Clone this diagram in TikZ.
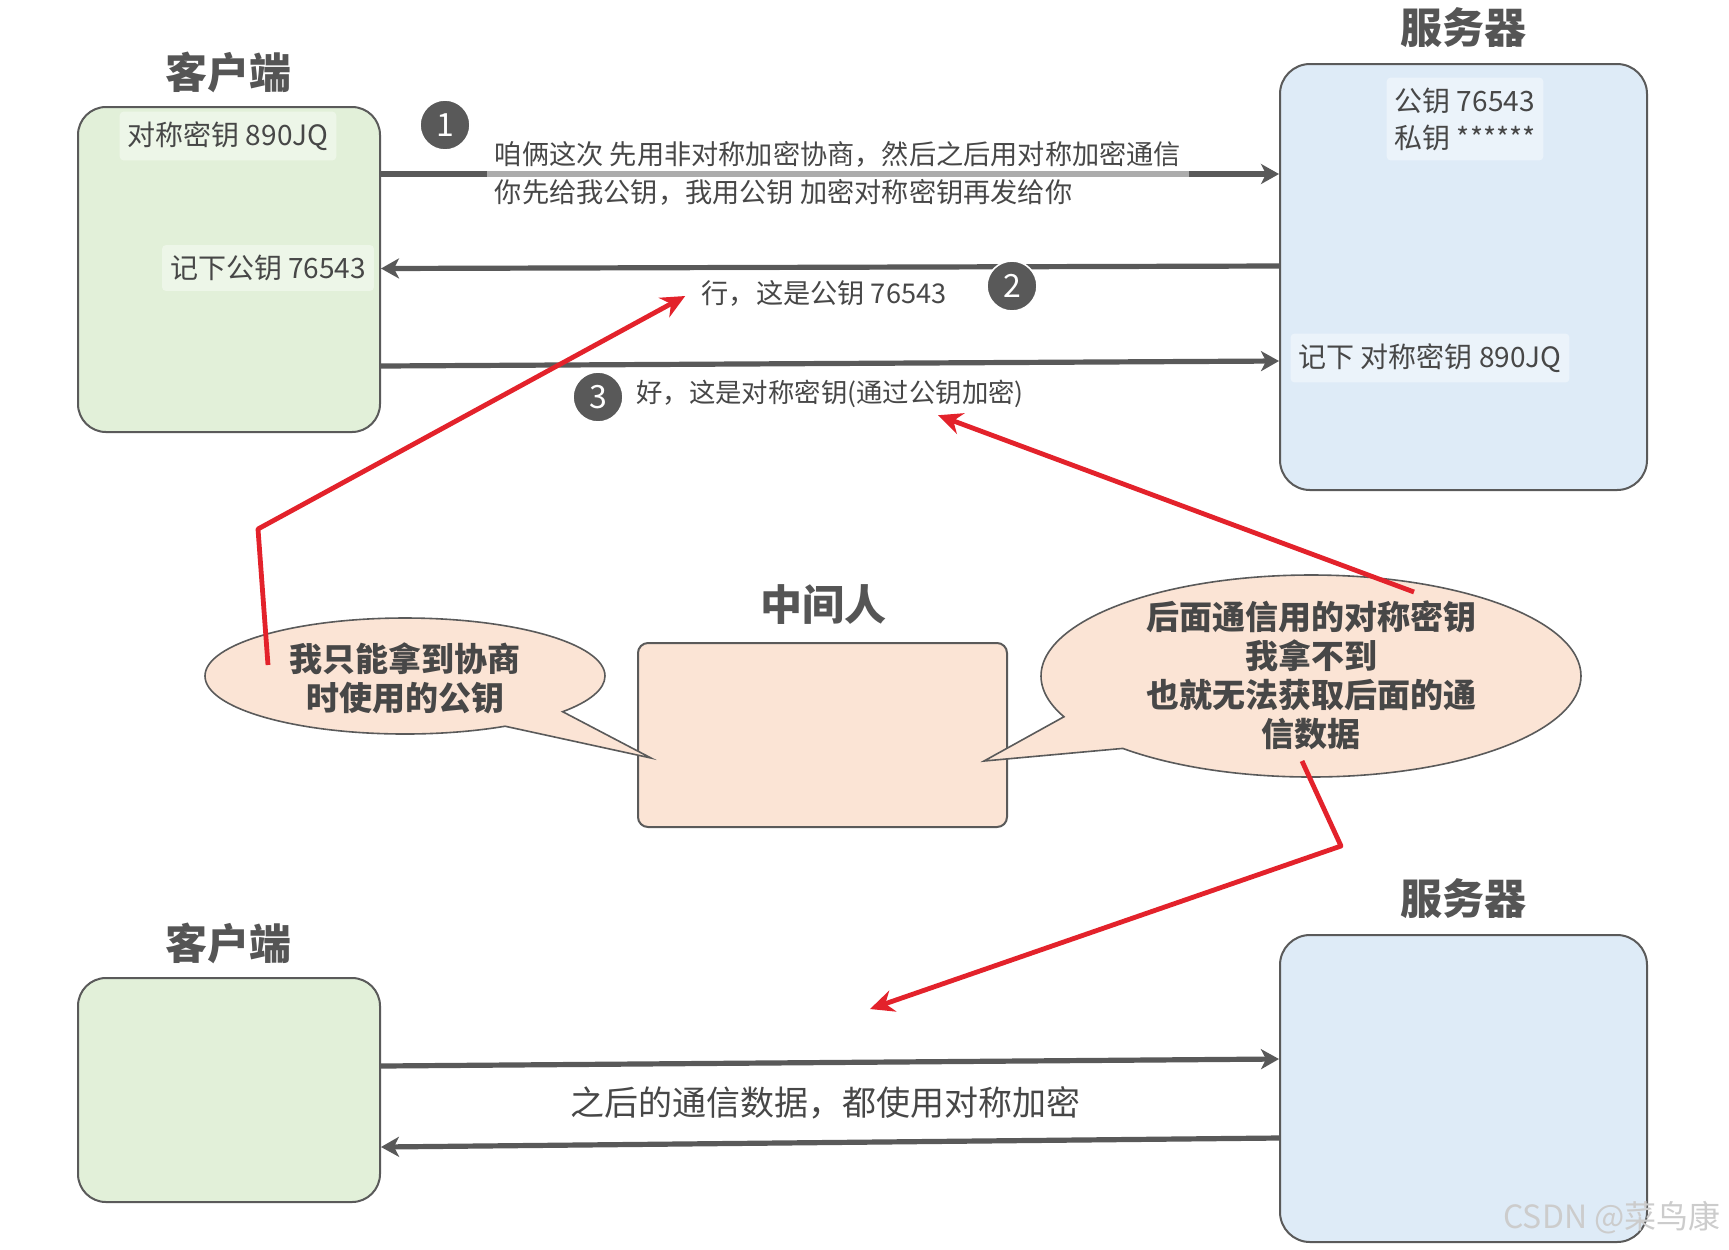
\documentclass[tikz,border=0pt]{standalone}
\usepackage{fontspec}
\setmainfont{Noto Sans CJK SC}
\usetikzlibrary{arrows.meta,calc,shapes.callouts}
\definecolor{txt}{HTML}{474747}
\definecolor{ttl}{HTML}{555555}
\definecolor{edge}{HTML}{595959}
\definecolor{green1}{HTML}{E2F0D9}
\definecolor{blue1}{HTML}{DEEBF7}
\definecolor{peach}{HTML}{FBE4D5}
\definecolor{redl}{HTML}{E3222B}
\definecolor{bord}{HTML}{5A5A5A}
\begin{document}
\begin{tikzpicture}[x=0.5pt,y=-0.5pt,
  box/.style={draw=bord, line width=1pt, rounded corners=14pt, inner sep=0pt},
  title/.style={font=\fontsize{21}{25}\selectfont\bfseries, text=ttl},
  lbl/.style={font=\fontsize{13.6}{19}\selectfont, text=txt, fill=white, fill opacity=0.5, text opacity=1, inner xsep=4pt, inner ysep=5pt},
  inlbl/.style={font=\fontsize{14}{18.5}\selectfont, text=txt, fill=white, fill opacity=0.4, text opacity=1, inner xsep=4pt, inner ysep=5pt, rounded corners=2pt},
  conn/.style={draw=edge, line width=2.6pt, -{Stealth[length=9pt,width=10pt,inset=2.5pt]}},
  num/.style={circle, fill=edge, draw=white, line width=0.8pt, text=white, minimum size=25pt, inner sep=0pt, font=\fontsize{16}{16}\selectfont},
  redarrow/.style={draw=redl, line width=2.4pt, line join=round, -{Stealth[length=12pt,width=11pt]}},
  bubble/.style={ellipse callout, draw=bord, fill=peach, line width=0.8pt, inner sep=0pt, callout pointer arc=22},
  btxt/.style={font=\fontsize{16.5}{19.5}\selectfont\bfseries, text=txt, align=center},
]
\useasboundingbox (0,0) rectangle (1729,1249);
\fill[white] (0,0) rectangle (1729,1249);

% boxes
\node[box, fill=green1, minimum width=151pt, minimum height=162.5pt] (cl1) at (229,269.5) {};
\node[box, fill=blue1, minimum width=183.5pt, minimum height=213pt, rounded corners=15pt] (sv1) at (1463.5,277) {};
\node[box, fill=peach, minimum width=184.5pt, minimum height=92pt, rounded corners=5pt] (mid) at (822.5,735) {};
\node[box, fill=green1, minimum width=151pt, minimum height=112pt] (cl2) at (229,1090) {};
\node[box, fill=blue1, minimum width=183.5pt, minimum height=153.5pt, rounded corners=15pt] (sv2) at (1463.5,1088.5) {};

% titles
\node[title] (t1) at (228,72) {客户端};
\node[title] (t2) at (1463,28) {服务器};
\node[title] (t3) at (823,605) {中间人};
\node[title] (t4) at (228,943) {客户端};
\node[title] (t5) at (1463,899) {服务器};

% labels inside boxes
\node[inlbl] (k1) at (228,136) {对称密钥 890JQ};
\node[inlbl] (k2) at (268,268) {记下公钥 76543};
\node[inlbl, align=left] (k3) at (1465,119) {公钥 76543\\私钥 ******};
\node[inlbl] (k4) at (1430,358) {记下 对称密钥 890JQ};

% top arrows
\draw[conn] ($(cl1.east)+(0,-95.5)$) -- ($(sv1.west)+(0,-103)$);
\draw[conn] ($(sv1.west)+(0,-11)$) -- ($(cl1.east)+(0,-1)$);
\draw[conn] ($(cl1.east)+(0,96.5)$) -- ($(sv1.west)+(0,84)$);

% arrow labels
\node[lbl, align=left] (m1) at (838,173) {咱俩这次 先用非对称加密协商，然后之后用对称加密通信\\你先给我公钥，我用公钥 加密对称密钥再发给你};
\node[lbl] (m2) at (824,293) {行，这是公钥 76543};
\node[lbl, font=\fontsize{13.2}{19}\selectfont] (m3) at (830,394) {好，这是对称密钥(通过公钥加密)};

% numbers
\node[num] (n1) at (445,125) {1};
\node[num] (n2) at (1012,286) {2};
\node[num] (n3) at (598,397) {3};

% bubbles
\coordinate (tipL) at (651,758);
\coordinate (tipR) at (984,761);
\node[bubble, minimum width=200pt, minimum height=58pt, callout absolute pointer={(tipL)}] (bl) at (405,676) {};
\node[bubble, minimum width=270pt, minimum height=101pt, callout absolute pointer={(tipR)}] (br) at (1311,676) {};
\node[btxt] (bt1) at (405,678) {我只能拿到协商\\时使用的公钥};
\node[btxt] (bt2) at (1311,675) {后面通信用的对称密钥\\我拿不到\\也就无法获取后面的通\\信数据};

% bottom arrows
\draw[conn] ($(cl2.east)+(0,-24)$) -- ($(sv2.west)+(0,-29.5)$);
\draw[conn] ($(sv2.west)+(0,49.5)$) -- ($(cl2.east)+(0,57)$);
\node[lbl, font=\fontsize{17}{20}\selectfont, inner xsep=6pt, inner ysep=8pt] (m4) at (825,1103) {之后的通信数据，都使用对称加密};

% red arrows
\coordinate (r1b) at (258,529);
\coordinate (r3b) at (1341,846);
\coordinate (r3c) at (870,1009);
\draw[redarrow] ($(bl.center)+(-137,-11)$) -- (r1b) -- ($(m2.west)+(-8,3)$);
\draw[redarrow] ($(br.center)+(103,-84)$) -- ($(m3.south east)+(-94,-3)$);
\draw[redarrow] ($(br.center)+(-9,85)$) -- (r3b) -- (r3c);

% watermark
\node[text=gray!40, font=\fontsize{16}{16}\selectfont] (wm) at (1612,1218) {CSDN @菜鸟康};
\end{tikzpicture}
\end{document}
